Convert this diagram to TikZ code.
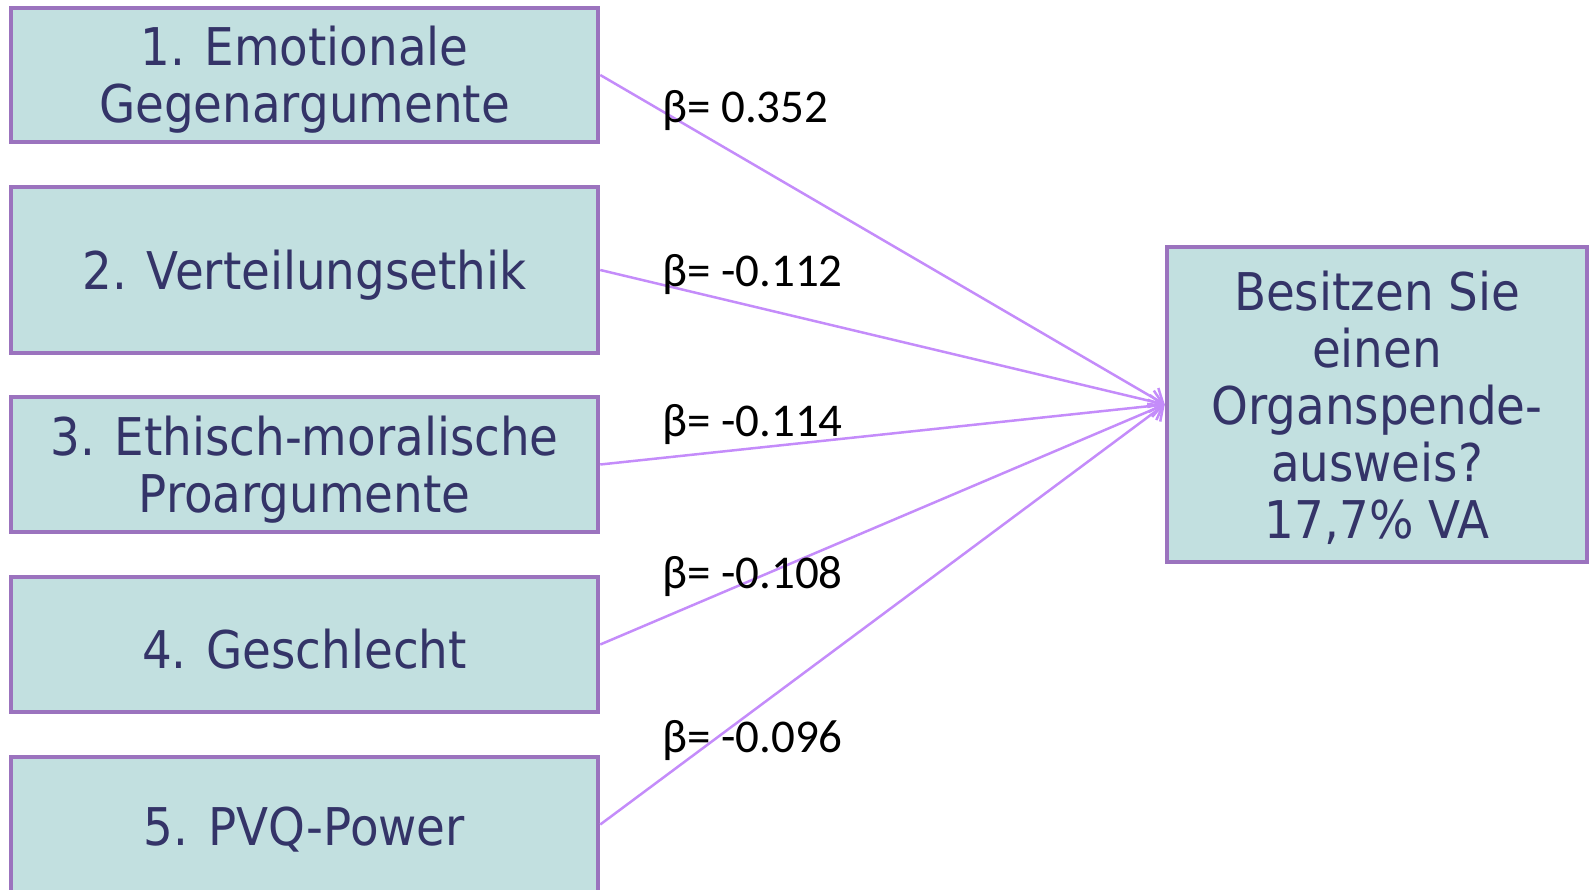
\documentclass[tikz,border=0pt]{standalone}
\usepackage{fontspec}
\usetikzlibrary{arrows.meta}
\newfontfamily\boxfont{DejaVu Sans Condensed}
\newfontfamily\labfont{Carlito}
\definecolor{txtc}{RGB}{52,52,104}
\definecolor{fillc}{RGB}{194,224,224}
\definecolor{borderc}{RGB}{155,115,190}
\definecolor{linec}{RGB}{196,140,250}
\tikzset{
  varbox/.style={draw=borderc, fill=fillc, line width=4.5pt,
    minimum width=587pt, inner sep=0pt},
  boxtext/.style={text=txtc, align=center, inner sep=0pt,
    font=\boxfont\fontsize{52}{57}\selectfont},
  betalab/.style={anchor=west, inner sep=0pt, font=\labfont\fontsize{47}{50}\selectfont},
  conn/.style={draw=linec, line width=2.5pt, -{Straight Barb[length=12pt,width=22pt,line width=2.5pt]}}
}
\begin{document}
\begin{tikzpicture}[x=1pt,y=-1pt]
\useasboundingbox (0,0) rectangle (1594,890);
\begin{scope}
\clip (0,0) rectangle (1594,890);
\node[varbox, minimum height=134pt] (b1) at (304.5,75) {};
\node[varbox, minimum height=166pt] (b2) at (304.5,270) {};
\node[varbox, minimum height=135pt] (b3) at (304.5,464.5) {};
\node[varbox, minimum height=135pt] (b4) at (304.5,644.5) {};
\node[varbox, minimum height=135pt] (b5) at (304.5,824.5) {};
\node[varbox, minimum width=420pt, minimum height=315pt] (t) at (1377,404.5) {};
\node[boxtext] (b1t) at ([yshift=-5pt]b1.center) {1. Emotionale\\Gegenargumente};
\node[boxtext] (b2t) at ([yshift=-5pt]b2.center) {2. Verteilungsethik};
\node[boxtext] (b3t) at ([yshift=-5pt]b3.center) {3. Ethisch-moralische\\Proargumente};
\node[boxtext] (b4t) at ([yshift=-5pt]b4.center) {4. Geschlecht};
\node[boxtext] (b5t) at ([yshift=-5pt]b5.center) {5. PVQ-Power};
\node[boxtext] (tt) at ([yshift=-3pt]t.center) {Besitzen Sie\\einen\\Organspende-\\ausweis?\\17,7\% VA};
\draw[conn] (b1.east) -- (t.west);
\draw[conn] (b2.east) -- (t.west);
\draw[conn] (b3.east) -- (t.west);
\draw[conn] (b4.east) -- (t.west);
\draw[conn] (b5.east) -- (t.west);
\node[betalab] (l1) at (662,111) {β= 0.352};
\node[betalab] (l2) at (662,275) {β= -0.112};
\node[betalab] (l3) at (662,425) {β= -0.114};
\node[betalab] (l4) at (662,576) {β= -0.108};
\node[betalab] (l5) at (662,741) {β= -0.096};
\end{scope}
\end{tikzpicture}
\end{document}
